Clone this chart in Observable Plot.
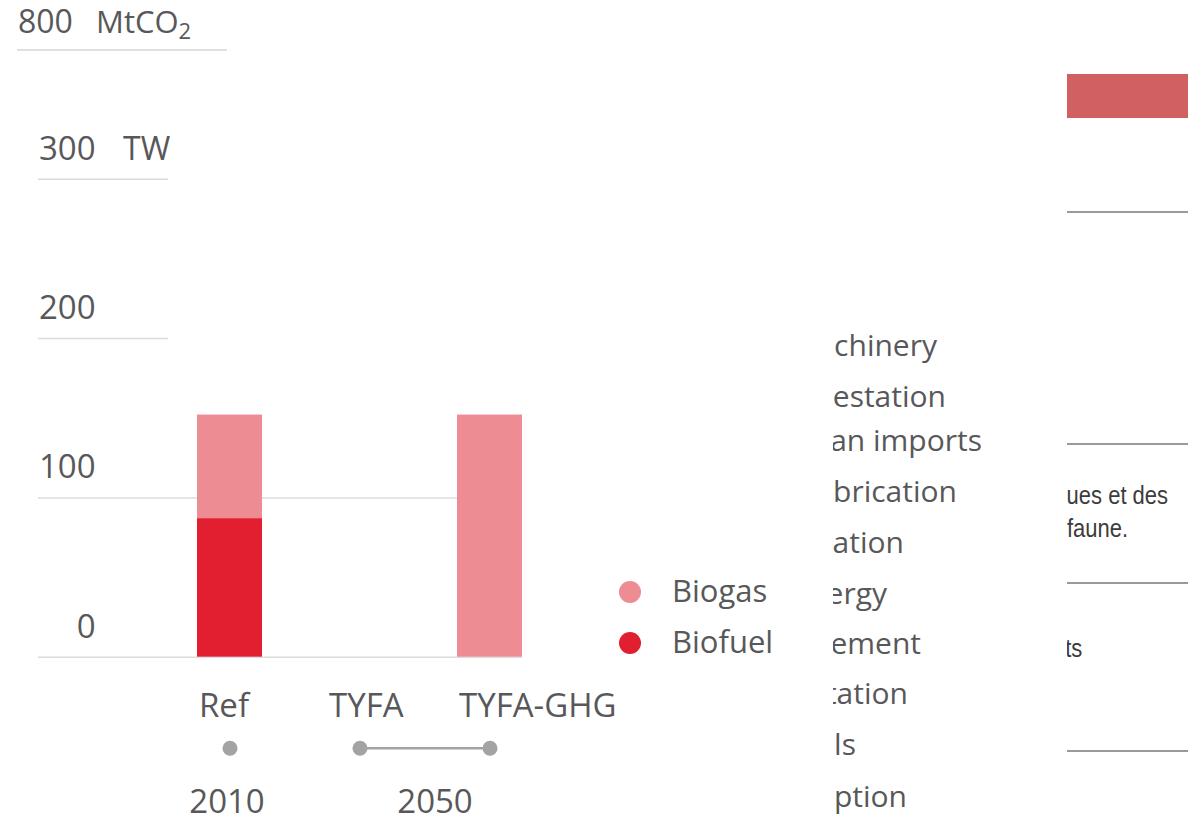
<!DOCTYPE html>
<html><head><meta charset="utf-8">
<script src="https://cdn.jsdelivr.net/npm/d3@7"></script>
<script src="https://cdn.jsdelivr.net/npm/@observablehq/plot@0.6"></script>
<style>
html,body{margin:0;padding:0;background:#fff;}
#wrap{position:relative;width:1188px;height:820px;overflow:hidden;font-family:"Open Sans",sans-serif;color:#58585a;}
#wrap svg{position:absolute;left:0;top:0;}
.abs{position:absolute;white-space:nowrap;line-height:1;}
.clip{position:absolute;overflow:hidden;}
.narrow{font-family:"Liberation Sans",sans-serif;font-size:25px;color:#3c3c3c;transform:scaleX(0.88);transform-origin:right center;}
</style></head><body><div id="wrap"></div>
<script>
// ---- data ----
const scenarios = ["Ref", "TYFA", "TYFA-GHG"];
const sources = ["Biofuel", "Biogas"];
const biofuelTWh = [87, 0, 0];
const biogasTWh = [65, 0, 152];
const yTicks = [0, 100, 200, 300];
const yUnit = "TWh";
const years = ["2010", "2050"];
const colors = {Biogas: "#ed8c93", Biofuel: "#e11f30"};
const legendOrder = ["Biogas", "Biofuel"];
const topTick = "800";
const topUnit = "MtCO";
const listItems = ["Agricultural machinery", "Deforestation", "Soybean imports", "Fertilizer fabrication",
  "Fertilization", "Energy", "Manure management", "Enteric fermentation", "Soils", "Consumption"];
const noteLines = ["la préservation des pratiques et des", "habitats de la faune."];
const noteLast = "Intrants";

// ---- table ----
const rows = [];
sources.forEach(s => scenarios.forEach((sc, i) => {
  rows.push({scenario: sc, source: s, value: s === "Biofuel" ? biofuelTWh[i] : biogasTWh[i]});
}));

const gray = "#58585a";
const font = "Open Sans";

const chart = Plot.plot({
  width: 1188, height: 820,
  marginLeft: 38, marginRight: 666, marginTop: 178.8, marginBottom: 163.3,
  style: {fontFamily: font, background: "transparent", overflow: "visible"},
  x: {type: "band", domain: scenarios, range: [197, 522], paddingInner: 0.5, paddingOuter: 0, axis: null},
  y: {domain: [0, 300], axis: null},
  color: {domain: Object.keys(colors), range: Object.values(colors)},
  marks: [
    Plot.ruleY(yTicks.filter(d => d < 200), {stroke: "#dcdcdc", strokeWidth: 1.5}),
    Plot.ruleY(yTicks.filter(d => d >= 200), {stroke: "#dcdcdc", strokeWidth: 1.5, insetRight: 354}),
    Plot.text(yTicks, {y: d => d, text: d => String(d), frameAnchor: "left", textAnchor: "end", lineAnchor: "middle", dx: 57, dy: -30, fontSize: 33, fill: gray}),
    Plot.barY(rows, Plot.stackY({x: "scenario", y: "value", fill: "source", order: sources})),
    Plot.text(scenarios, {x: d => d, text: d => d, frameAnchor: "bottom", textAnchor: "start", lineAnchor: "middle", dx: -31, dy: 49, fontSize: 33, fill: gray}),
    Plot.link([{a: scenarios[1], b: scenarios[2]}], {x1: "a", x2: "b", y1: () => 0, y2: () => 0, dy: 91, stroke: "#a3a3a3", strokeWidth: 2.5}),
    Plot.dot(scenarios, {x: d => d, frameAnchor: "bottom", dy: 91, r: 7.5, fill: "#a3a3a3"}),
    Plot.text([years[0]], {x: () => scenarios[0], text: d => d, frameAnchor: "bottom", lineAnchor: "middle", dx: -3, dy: 145, fontSize: 33, fill: gray}),
    Plot.text([years[1]], {x: () => scenarios[2], text: d => d, frameAnchor: "bottom", lineAnchor: "middle", dx: -55, dy: 145, fontSize: 33, fill: gray})
  ]
});
const wrap = document.getElementById("wrap");
wrap.appendChild(chart);

function add(html) { wrap.insertAdjacentHTML("beforeend", html); }

// top-left residual axis
add(`<div class="abs" style="left:18px;top:5px;font-size:32px;">${topTick}</div>`);
add(`<div class="abs" style="left:96px;top:6px;font-size:31px;">${topUnit}<span style="font-size:22px;position:relative;top:6px">2</span></div>`);
add(`<div class="abs" style="left:17px;top:49px;width:210px;height:2px;background:#e0e0e0"></div>`);
// unit next to 300
add(`<div class="clip" style="left:123px;top:128px;width:47px;height:45px;"><div class="abs" style="left:0;top:4px;font-size:32px;">${yUnit}</div></div>`);

// legend
legendOrder.forEach((k, i) => {
  const cy = 592 + i * 51;
  add(`<div class="abs" style="left:619px;top:${cy - 11}px;width:22px;height:22px;border-radius:50%;background:${colors[k]}"></div>`);
  add(`<div class="abs" style="left:672px;top:${cy - 17}px;font-size:31px;">${k}</div>`);
});

// clipped list on the right
const ends = [937, 946, 982, 957, 904, 887, 921, 908, 856, 907];
const centers = [346, 397, 441, 492, 543, 594, 644, 694, 745, 797];
const listHtml = listItems.map((t, i) =>
  `<div class="abs" style="right:${1060 - ends[i]}px;top:${centers[i] - 16}px;font-size:30px;">${t}</div>`).join("");
add(`<div class="clip" style="left:833px;top:300px;width:227px;height:520px;"><div style="position:absolute;left:-833px;top:-300px;width:1060px;height:820px;">${listHtml}</div></div>`);

// far right fragments
add(`<div class="abs" style="left:1067px;top:74px;width:121px;height:44px;background:#d06062"></div>`);
[211, 443, 582, 750].forEach(y => add(`<div class="abs" style="left:1067px;top:${y}px;width:121px;height:2px;background:#9a9a9a"></div>`));
add(`<div class="clip" style="left:1067px;top:470px;width:121px;height:200px;"><div style="position:absolute;left:-1067px;top:-470px;width:1170px;height:820px;">
<div class="abs narrow" style="right:2px;top:483px;">${noteLines[0]}</div>
<div class="abs narrow" style="right:42px;top:516px;">${noteLines[1]}</div>
<div class="abs narrow" style="right:88px;top:636px;">${noteLast}</div>
</div></div>`);
</script></body></html>
